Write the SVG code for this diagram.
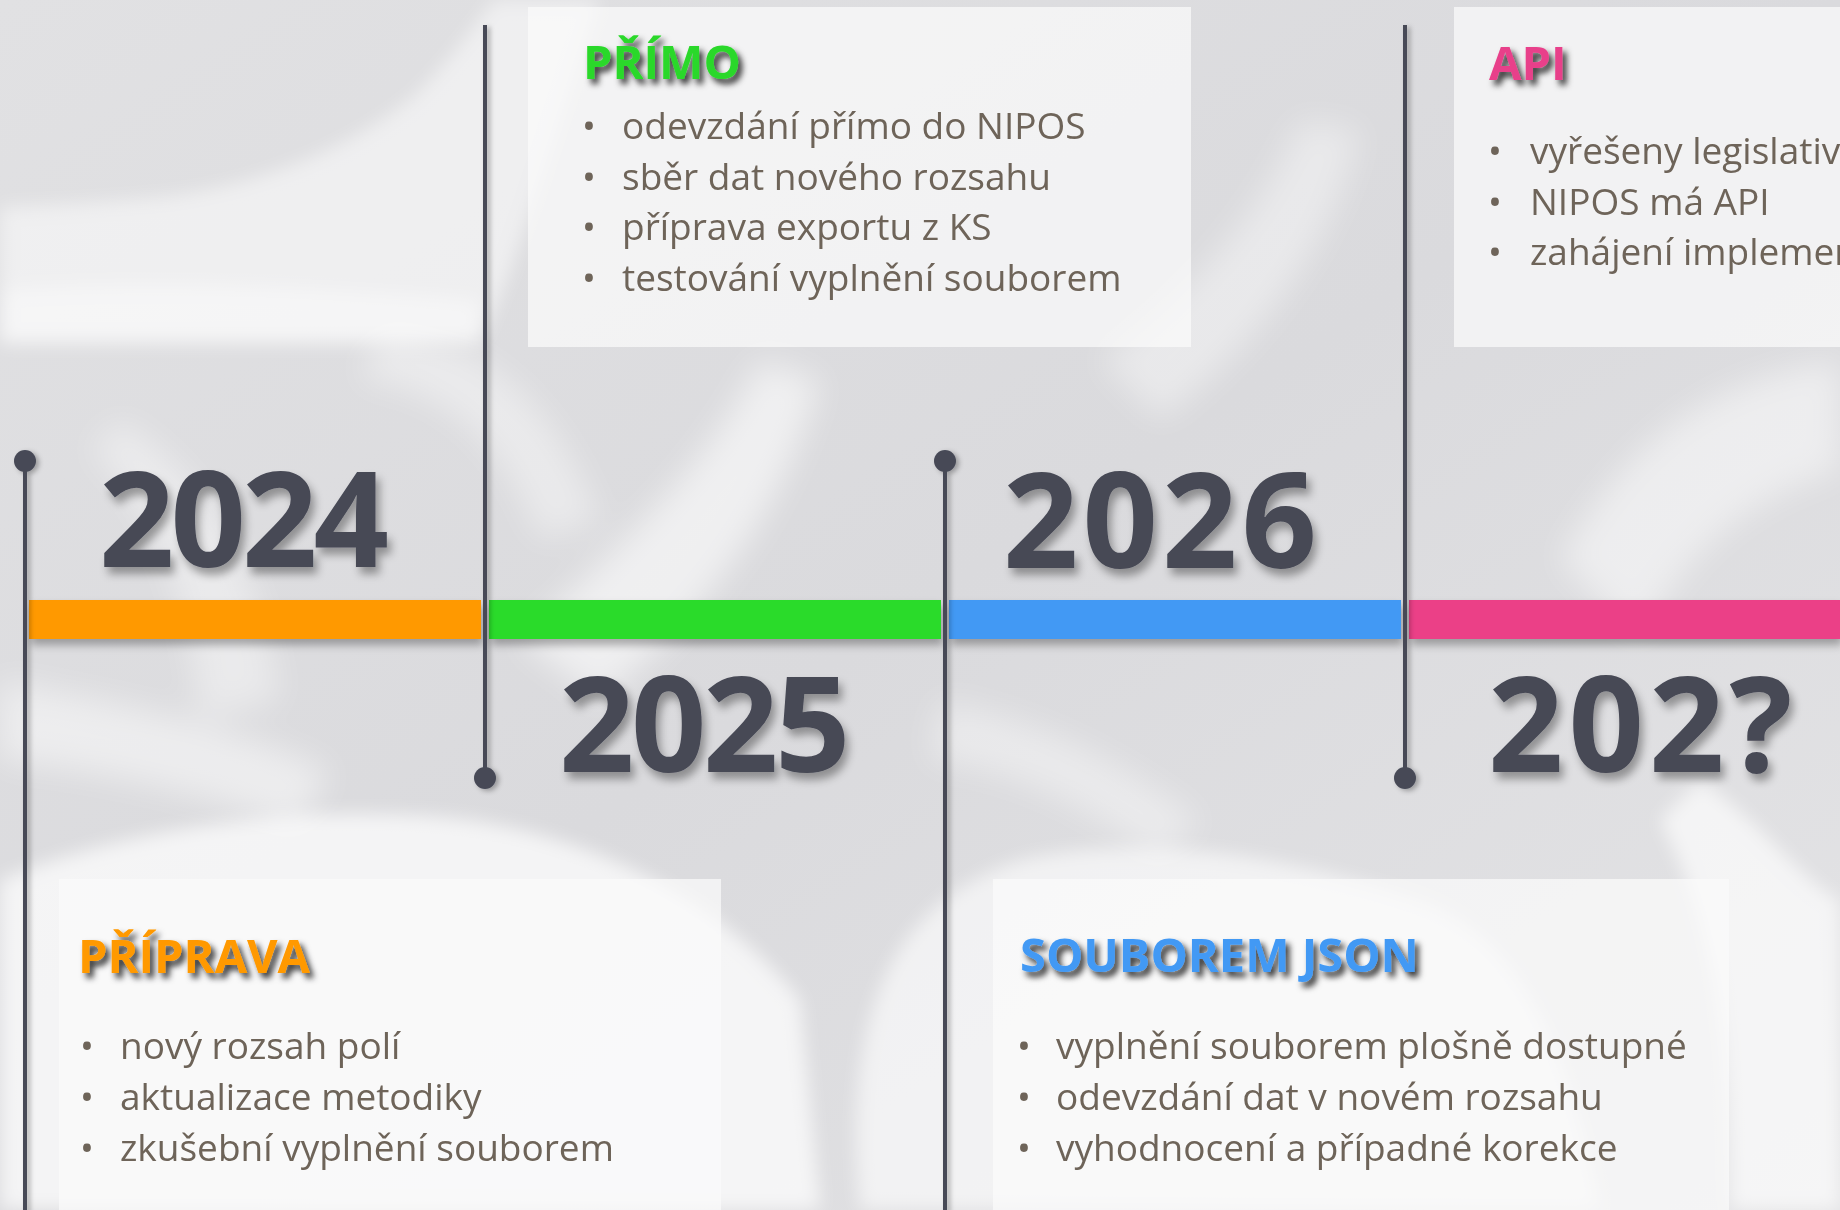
<svg xmlns="http://www.w3.org/2000/svg" width="1840" height="1210" viewBox="0 0 1840 1210">
<defs>
<style>
.body{font-family:"Open Sans","Noto Sans","DejaVu Sans",sans-serif;font-size:37px;fill:#6e6459;}
.title{font-family:"Open Sans","Noto Sans","DejaVu Sans",sans-serif;font-size:47px;font-weight:700;filter:url(#tsh);}
.year{font-family:"Open Sans","Noto Sans","DejaVu Sans",sans-serif;font-size:132px;font-weight:700;fill:#464854;filter:url(#ysh);}
.box{fill:#fbfbfb;fill-opacity:0.72;}
.vline{stroke:#474a57;stroke-width:4;fill:none;}
.dot{fill:#474a57;}
.ribbon{fill:#ffffff;}
</style>
<filter id="tsh" x="-20%" y="-40%" width="150%" height="200%">
<feGaussianBlur in="SourceAlpha" stdDeviation="3" result="b"/>
<feOffset dx="4" dy="5" result="o"/>
<feFlood flood-color="#000" flood-opacity="0.8"/>
<feComposite in2="o" operator="in" result="s"/>
<feMerge><feMergeNode in="s"/><feMergeNode in="SourceGraphic"/></feMerge>
</filter>
<filter id="ysh" x="-20%" y="-30%" width="150%" height="170%">
<feDropShadow dx="4" dy="7" stdDeviation="4" flood-color="#000" flood-opacity="0.35"/>
</filter>
<filter id="bsh" x="-5%" y="-50%" width="110%" height="250%">
<feDropShadow dx="2" dy="6" stdDeviation="4" flood-color="#000" flood-opacity="0.3"/>
</filter>
<filter id="lsh" x="-300%" y="-5%" width="700%" height="110%">
<feDropShadow dx="3" dy="2" stdDeviation="2.5" flood-color="#000" flood-opacity="0.3"/>
</filter>
<filter id="blur" x="-20%" y="-20%" width="140%" height="140%">
<feGaussianBlur stdDeviation="16"/>
</filter>
<filter id="blur2" x="-20%" y="-20%" width="140%" height="140%">
<feGaussianBlur stdDeviation="9"/>
</filter>
<linearGradient id="bgg" x1="0" y1="0" x2="1" y2="1">
<stop offset="0" stop-color="#e1e1e3"/>
<stop offset="0.5" stop-color="#dadadd"/>
<stop offset="1" stop-color="#e4e4e6"/>
</linearGradient>
</defs>

<g id="background">
<rect x="0" y="0" width="1840" height="1210" fill="url(#bgg)"/>
<g filter="url(#blur2)">
<path class="ribbon" d="M0,207 C60,205 130,200 170,196 C280,180 360,140 415,95 C450,60 475,25 494,0 L600,0 C560,120 520,260 480,343 L0,343 Z" opacity="0.5"/>
<path class="ribbon" d="M0,290 C150,280 300,285 480,300 L480,343 L0,343 Z" opacity="0.4"/>
<path class="ribbon" d="M0,880 C120,830 300,800 470,820 C600,840 720,900 800,1000 L820,1210 L0,1210 Z" opacity="0.7"/>
<path class="ribbon" d="M860,1210 C840,1000 900,900 1020,860 C1150,830 1300,860 1420,900 C1500,930 1560,1000 1600,1210 Z" opacity="0.6"/>
<path class="ribbon" d="M1700,780 C1760,820 1800,880 1840,900 L1840,1210 L1730,1210 C1730,1000 1700,900 1660,820 Z" opacity="0.65"/>
</g>
<g filter="url(#blur)" opacity="0.8">
<path class="ribbon" d="M520,640 C600,560 700,480 760,360 L820,380 C780,520 700,620 600,700 Z" opacity="0.7"/>
<path class="ribbon" d="M1560,560 C1620,450 1700,380 1840,360 L1840,470 C1740,500 1680,560 1640,640 Z" opacity="0.6"/>
<path class="ribbon" d="M1100,360 C1180,300 1260,220 1300,120 L1360,130 C1330,260 1240,360 1160,420 Z" opacity="0.5"/>
<path class="ribbon" d="M120,420 C200,470 260,560 280,700 L200,720 C190,600 150,500 90,450 Z" opacity="0.5"/>
<path class="ribbon" d="M380,330 C500,340 560,420 600,520 L540,540 C510,460 460,390 360,380 Z" opacity="0.5"/>
<path class="ribbon" d="M940,700 C1040,720 1120,760 1200,820 L1160,860 C1080,800 1010,770 930,760 Z" opacity="0.5"/>
<path class="ribbon" d="M0,680 C100,700 220,720 330,770 L300,830 C200,790 90,770 0,760 Z" opacity="0.6"/>
</g>
</g>

<g id="node-primo">
<rect class="box" x="528" y="7" width="663" height="340"/>
<text class="title" x="583" y="79" fill="#2bd82b">PŘÍMO</text>
<text class="body" x="589" y="139" text-anchor="middle">•</text>
<text class="body" x="622" y="139">odevzdání přímo do NIPOS</text>
<text class="body" x="589" y="190" text-anchor="middle">•</text>
<text class="body" x="622" y="190">sběr dat nového rozsahu</text>
<text class="body" x="589" y="240" text-anchor="middle">•</text>
<text class="body" x="622" y="240">příprava exportu z KS</text>
<text class="body" x="589" y="291" text-anchor="middle">•</text>
<text class="body" x="622" y="291">testování vyplnění souborem</text>
</g>

<g id="node-api">
<rect class="box" x="1454" y="7" width="386" height="340"/>
<text class="title" x="1489" y="80" fill="#e8408a">API</text>
<text class="body" x="1495" y="164" text-anchor="middle">•</text>
<text class="body" x="1530" y="164">vyřešeny legislativ</text>
<text class="body" x="1495" y="215" text-anchor="middle">•</text>
<text class="body" x="1530" y="215">NIPOS má API</text>
<text class="body" x="1495" y="265" text-anchor="middle">•</text>
<text class="body" x="1530" y="265">zahájení implemen</text>
</g>

<g id="node-priprava">
<rect class="box" x="59" y="879" width="662" height="331"/>
<text class="title" x="78" y="973" fill="#ff9900">PŘÍPRAVA</text>
<text class="body" x="87" y="1059" text-anchor="middle">•</text>
<text class="body" x="120" y="1059">nový rozsah polí</text>
<text class="body" x="87" y="1110" text-anchor="middle">•</text>
<text class="body" x="120" y="1110">aktualizace metodiky</text>
<text class="body" x="87" y="1161" text-anchor="middle">•</text>
<text class="body" x="120" y="1161">zkušební vyplnění souborem</text>
</g>

<g id="node-json">
<rect class="box" x="993" y="879" width="736" height="331"/>
<text class="title" x="1020" y="972" fill="#4399f4">SOUBOREM JSON</text>
<text class="body" x="1024" y="1059" text-anchor="middle">•</text>
<text class="body" x="1056" y="1059">vyplnění souborem plošně dostupné</text>
<text class="body" x="1024" y="1110" text-anchor="middle">•</text>
<text class="body" x="1056" y="1110">odevzdání dat v novém rozsahu</text>
<text class="body" x="1024" y="1161" text-anchor="middle">•</text>
<text class="body" x="1056" y="1161">vyhodnocení a případné korekce</text>
</g>

<g id="timeline" filter="url(#bsh)">
<rect id="bar-2024" x="29" y="600" width="452" height="39" fill="#ff9900"/>
<rect id="bar-2025" x="489" y="600" width="452" height="39" fill="#2adb2a"/>
<rect id="bar-2026" x="949" y="600" width="452" height="39" fill="#4399f4"/>
<rect id="bar-202x" x="1409" y="600" width="431" height="39" fill="#eb4187"/>
</g>

<g id="connectors" filter="url(#lsh)">
<line class="vline" x1="25" y1="461" x2="25" y2="1212"/>
<circle class="dot" cx="25" cy="461" r="11"/>
<line class="vline" x1="485" y1="25" x2="485" y2="778"/>
<circle class="dot" cx="485" cy="778" r="11"/>
<line class="vline" x1="945" y1="461" x2="945" y2="1212"/>
<circle class="dot" cx="945" cy="461" r="11"/>
<line class="vline" x1="1405" y1="25" x2="1405" y2="778"/>
<circle class="dot" cx="1405" cy="778" r="11"/>
</g>

<g id="year-2024"><text class="year" x="99" y="567" letter-spacing="-4">2024</text></g>
<g id="year-2025"><text class="year" x="559" y="772" letter-spacing="-3.5">2025</text></g>
<g id="year-2026"><text class="year" x="1003" y="568" letter-spacing="4">2026</text></g>
<g id="year-202x"><text class="year" x="1488" y="772" letter-spacing="5">202?</text></g>
</svg>
